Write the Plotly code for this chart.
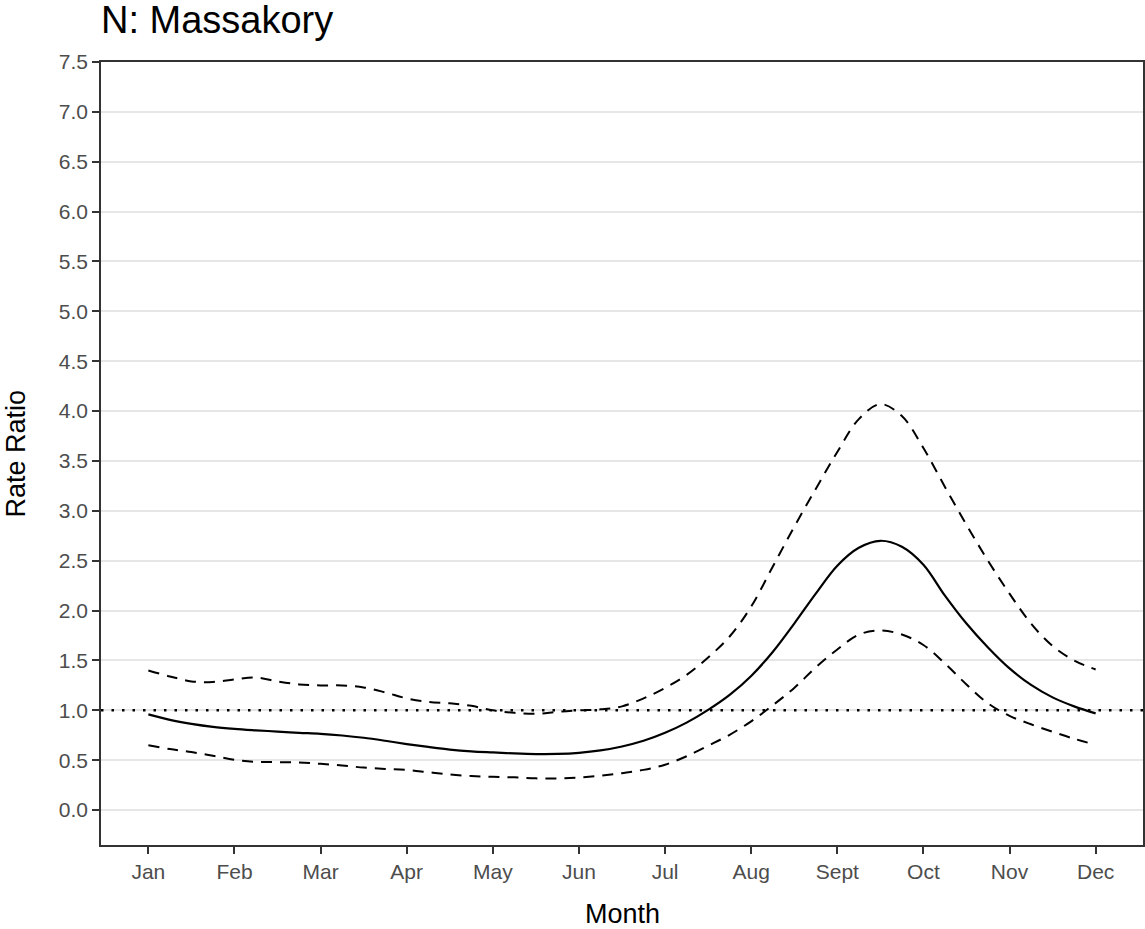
import plotly.graph_objects as go

# Month positions (1 = Jan ... 12 = Dec), quarter-month steps
months = [1 + 0.25 * i for i in range(45)]

# Estimated rate ratio and its 95% confidence band
rate_ratio = [
    0.96, 0.905, 0.865, 0.835, 0.815, 0.80, 0.787, 0.775, 0.765, 0.748,
    0.725, 0.695, 0.662, 0.633, 0.607, 0.589, 0.578, 0.568, 0.562, 0.563,
    0.574, 0.598, 0.638, 0.695, 0.775, 0.877, 1.005, 1.155, 1.345, 1.585,
    1.87, 2.17, 2.45, 2.63, 2.70, 2.64, 2.46, 2.15, 1.87, 1.63,
    1.42, 1.255, 1.13, 1.04, 0.97,
]
upper_ci = [
    1.40, 1.34, 1.29, 1.285, 1.31, 1.33, 1.29, 1.26, 1.25, 1.25,
    1.23, 1.18, 1.12, 1.085, 1.07, 1.045, 1.00, 0.975, 0.965, 0.985,
    1.00, 1.01, 1.04, 1.12, 1.225, 1.355, 1.53, 1.74, 2.04, 2.44,
    2.84, 3.22, 3.59, 3.92, 4.07, 3.95, 3.63, 3.24, 2.86, 2.50,
    2.17, 1.87, 1.645, 1.50, 1.41,
]
lower_ci = [
    0.65, 0.612, 0.582, 0.545, 0.505, 0.483, 0.481, 0.477, 0.464, 0.447,
    0.426, 0.413, 0.403, 0.38, 0.357, 0.342, 0.333, 0.328, 0.318, 0.317,
    0.327, 0.345, 0.37, 0.403, 0.455, 0.54, 0.645, 0.755, 0.89, 1.05,
    1.225, 1.43, 1.61, 1.76, 1.80, 1.76, 1.655, 1.47, 1.26, 1.07,
    0.945, 0.86, 0.785, 0.715, 0.655,
]

month_ticks = list(range(1, 13))
month_labels = ["Jan", "Feb", "Mar", "Apr", "May", "Jun",
                "Jul", "Aug", "Sept", "Oct", "Nov", "Dec"]
y_ticks = [0.5 * i for i in range(16)]
reference_level = 1.0

FONT = "Liberation Sans, Arial, sans-serif"
DASH = "11px,8px"

fig = go.Figure()

for series in (upper_ci, lower_ci):
    fig.add_trace(go.Scatter(
        x=months, y=series, mode="lines",
        line=dict(color="black", width=2, dash=DASH, shape="spline", smoothing=1.0),
        showlegend=False, hoverinfo="skip",
    ))

fig.add_trace(go.Scatter(
    x=months, y=rate_ratio, mode="lines",
    line=dict(color="black", width=2.2, shape="spline", smoothing=1.0),
    showlegend=False,
))

# Reference line at a rate ratio of 1
fig.add_hline(y=reference_level, line=dict(color="black", width=2.5, dash="2.5px,8px"))

axis_common = dict(
    showline=True, linecolor="#333333", linewidth=1.5, mirror=True,
    ticks="outside", ticklen=7, tickwidth=1.5, tickcolor="#333333",
    tickfont=dict(family=FONT, size=21, color="#4D4D4D"),
    zeroline=False,
)

fig.update_xaxes(
    range=[0.45, 12.55], tickvals=month_ticks, ticktext=month_labels,
    showgrid=False, **axis_common,
)
fig.update_yaxes(
    range=[-0.35, 7.5], tickvals=y_ticks, tickformat=".1f",
    showgrid=True, gridcolor="#E6E6E6", gridwidth=1.6, **axis_common,
)

fig.update_layout(
    width=1145, height=929,
    margin=dict(l=101, r=2, t=62, b=84, autoexpand=False),
    plot_bgcolor="white", paper_bgcolor="white",
    font=dict(family=FONT, color="black"),
    annotations=[
        dict(text="N: Massakory", xref="paper", yref="paper", x=0, y=1,
             xanchor="left", yanchor="bottom", yshift=19, xshift=-2, showarrow=False,
             font=dict(family=FONT, size=38, color="black")),
        dict(text="Month", xref="paper", yref="paper", x=0.5, y=0,
             xanchor="center", yanchor="top", yshift=-52, showarrow=False,
             font=dict(family=FONT, size=27, color="black")),
        dict(text="Rate Ratio", xref="paper", yref="paper", x=0, y=0.5,
             xanchor="center", yanchor="middle", xshift=-86, textangle=-90,
             showarrow=False, font=dict(family=FONT, size=27, color="black")),
    ],
)

fig.write_html("out.html")
